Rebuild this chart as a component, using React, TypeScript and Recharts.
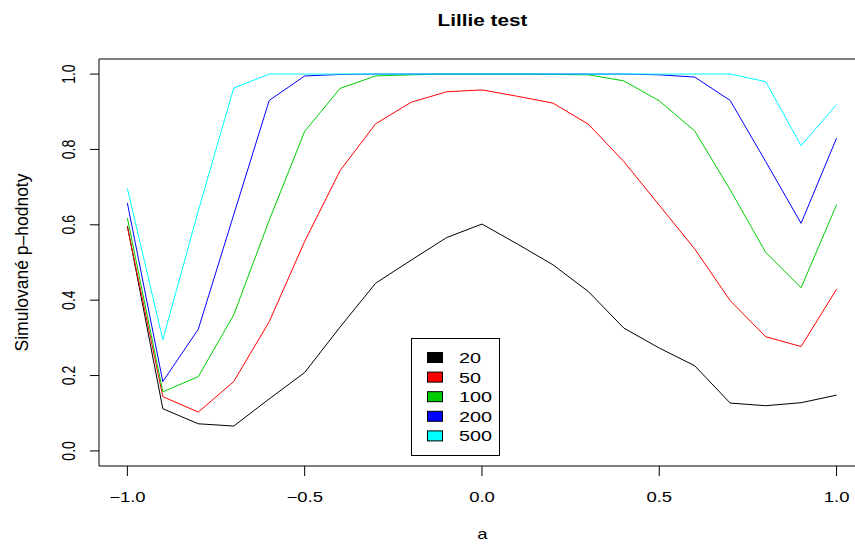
import { LineChart, Line, XAxis, YAxis, ReferenceLine } from "recharts";

const FONT = "'Liberation Sans', Arial, Helvetica, sans-serif";
// R's device output is wider than tall, so text gets stretched sideways
const STRETCH = 1.32;

const A_VALUES = [-1.0, -0.9, -0.8, -0.7, -0.6, -0.5, -0.4, -0.3, -0.2, -0.1, 0.0, 0.1, 0.2, 0.3, 0.4, 0.5, 0.6, 0.7, 0.8, 0.9, 1.0];

const P_N20 = [0.597, 0.112, 0.072, 0.066, 0.138, 0.208, 0.329, 0.445, 0.506, 0.566, 0.602, 0.549, 0.494, 0.423, 0.326, 0.273, 0.226, 0.127, 0.12, 0.128, 0.148];
const P_N50 = [0.595, 0.144, 0.103, 0.184, 0.343, 0.556, 0.744, 0.868, 0.925, 0.953, 0.958, 0.941, 0.923, 0.867, 0.768, 0.652, 0.536, 0.399, 0.303, 0.277, 0.429];
const P_N100 = [0.618, 0.157, 0.197, 0.361, 0.612, 0.848, 0.962, 0.995, 0.998, 1.0, 1.0, 1.0, 0.999, 0.998, 0.982, 0.929, 0.849, 0.693, 0.527, 0.433, 0.653];
const P_N200 = [0.658, 0.184, 0.323, 0.627, 0.93, 0.995, 0.999, 1.0, 1.0, 1.0, 1.0, 1.0, 1.0, 1.0, 1.0, 0.998, 0.992, 0.93, 0.768, 0.604, 0.83];
const P_N500 = [0.697, 0.295, 0.637, 0.963, 1.0, 1.0, 1.0, 1.0, 1.0, 1.0, 1.0, 1.0, 1.0, 1.0, 1.0, 1.0, 1.0, 1.0, 0.98, 0.81, 0.919];

const SAMPLE_SIZES = ["20", "50", "100", "200", "500"];
const SERIES = [P_N20, P_N50, P_N100, P_N200, P_N500];
const COLORS = ["#000000", "#ff0000", "#00cd00", "#0000ff", "#00ffff"];

const X_TICKS = [-1, -0.5, 0, 0.5, 1];
const Y_TICKS = [0, 0.2, 0.4, 0.6, 0.8, 1];

const rows = A_VALUES.map((a, i) => {
  const row: Record<string, number> = { a };
  SAMPLE_SIZES.forEach((n, k) => {
    row["n" + n] = SERIES[k][i];
  });
  return row;
});

function fmt(v: number) {
  return v < 0 ? "\u2212" + Math.abs(v).toFixed(1) : v.toFixed(1);
}

function XTick({ x, y, payload }: any) {
  return (
    <g transform={`translate(${x},${y}) scale(${STRETCH},1)`}>
      <text x={0} y={0} dy={26} textAnchor="middle" fontSize={14} fontFamily={FONT} fill="#000">
        {fmt(payload.value)}
      </text>
    </g>
  );
}

function YTick({ x, y, payload }: any) {
  return (
    <g transform={`translate(${x - 15},${y}) scale(${STRETCH},1) rotate(-90)`}>
      <text x={0} y={0} textAnchor="middle" fontSize={14} fontFamily={FONT} fill="#000">
        {fmt(payload.value)}
      </text>
    </g>
  );
}

function Decorations() {
  const rowY = (i: number) => 357.5 + i * 19.6;
  return (
    <svg width={855} height={544} style={{ position: "absolute", left: 0, top: 0, pointerEvents: "none" }}>
      <g transform={`translate(482.5,26) scale(1.22,1)`}>
        <text textAnchor="middle" fontSize={17} fontWeight="bold" fontFamily={FONT} fill="#000">
          Lillie test
        </text>
      </g>
      <g transform={`translate(482.5,539) scale(${STRETCH},1)`}>
        <text textAnchor="middle" fontSize={14} fontFamily={FONT} fill="#000">a</text>
      </g>
      <g transform={`translate(28,262.5) scale(${STRETCH},1) rotate(-90) scale(1.25,1)`}>
        <text textAnchor="middle" fontSize={14} fontFamily={FONT} fill="#000">Simulované p–hodnoty</text>
      </g>

      {/* legend */}
      <rect x={411.5} y={338.5} width={88} height={117} fill="#fff" stroke="#000" strokeWidth={1} />
      {SAMPLE_SIZES.map((n, i) => (
        <g key={n}>
          <rect x={427.5} y={rowY(i) - 5} width={15} height={10} fill={COLORS[i]} stroke="#000" strokeWidth={1} />
          <g transform={`translate(459,${rowY(i) + 5.5}) scale(${STRETCH},1)`}>
            <text fontSize={15} fontFamily={FONT} fill="#000">{n}</text>
          </g>
        </g>
      ))}
    </svg>
  );
}

export default function App() {
  return (
    <div style={{ position: "absolute", left: 0, top: 0, width: 855, height: 544, overflow: "hidden", background: "#fff" }}>
      <LineChart width={855} height={544} data={rows} margin={{ top: 59, right: 0, bottom: 0, left: 0 }}>
        <XAxis
          dataKey="a"
          type="number"
          domain={[-1.08, 1.052]}
          ticks={X_TICKS}
          allowDataOverflow
          height={78}
          tickSize={10}
          tickMargin={0}
          tick={<XTick />}
          axisLine={{ stroke: "#000" }}
          tickLine={{ stroke: "#000" }}
        />
        <YAxis
          type="number"
          domain={[-0.04, 1.04]}
          ticks={Y_TICKS}
          allowDataOverflow
          width={99}
          tickSize={9}
          tickMargin={0}
          tick={<YTick />}
          axisLine={{ stroke: "#000" }}
          tickLine={{ stroke: "#000" }}
        />
        <ReferenceLine y={1.04} stroke="#000" strokeWidth={1} ifOverflow="extendDomain" />
        {SAMPLE_SIZES.map((n, i) => (
          <Line
            key={n}
            dataKey={"n" + n}
            name={n}
            type="linear"
            stroke={COLORS[i]}
            strokeWidth={1}
            dot={false}
            activeDot={false}
            isAnimationActive={false}
          />
        ))}
      </LineChart>
      <Decorations />
    </div>
  );
}
